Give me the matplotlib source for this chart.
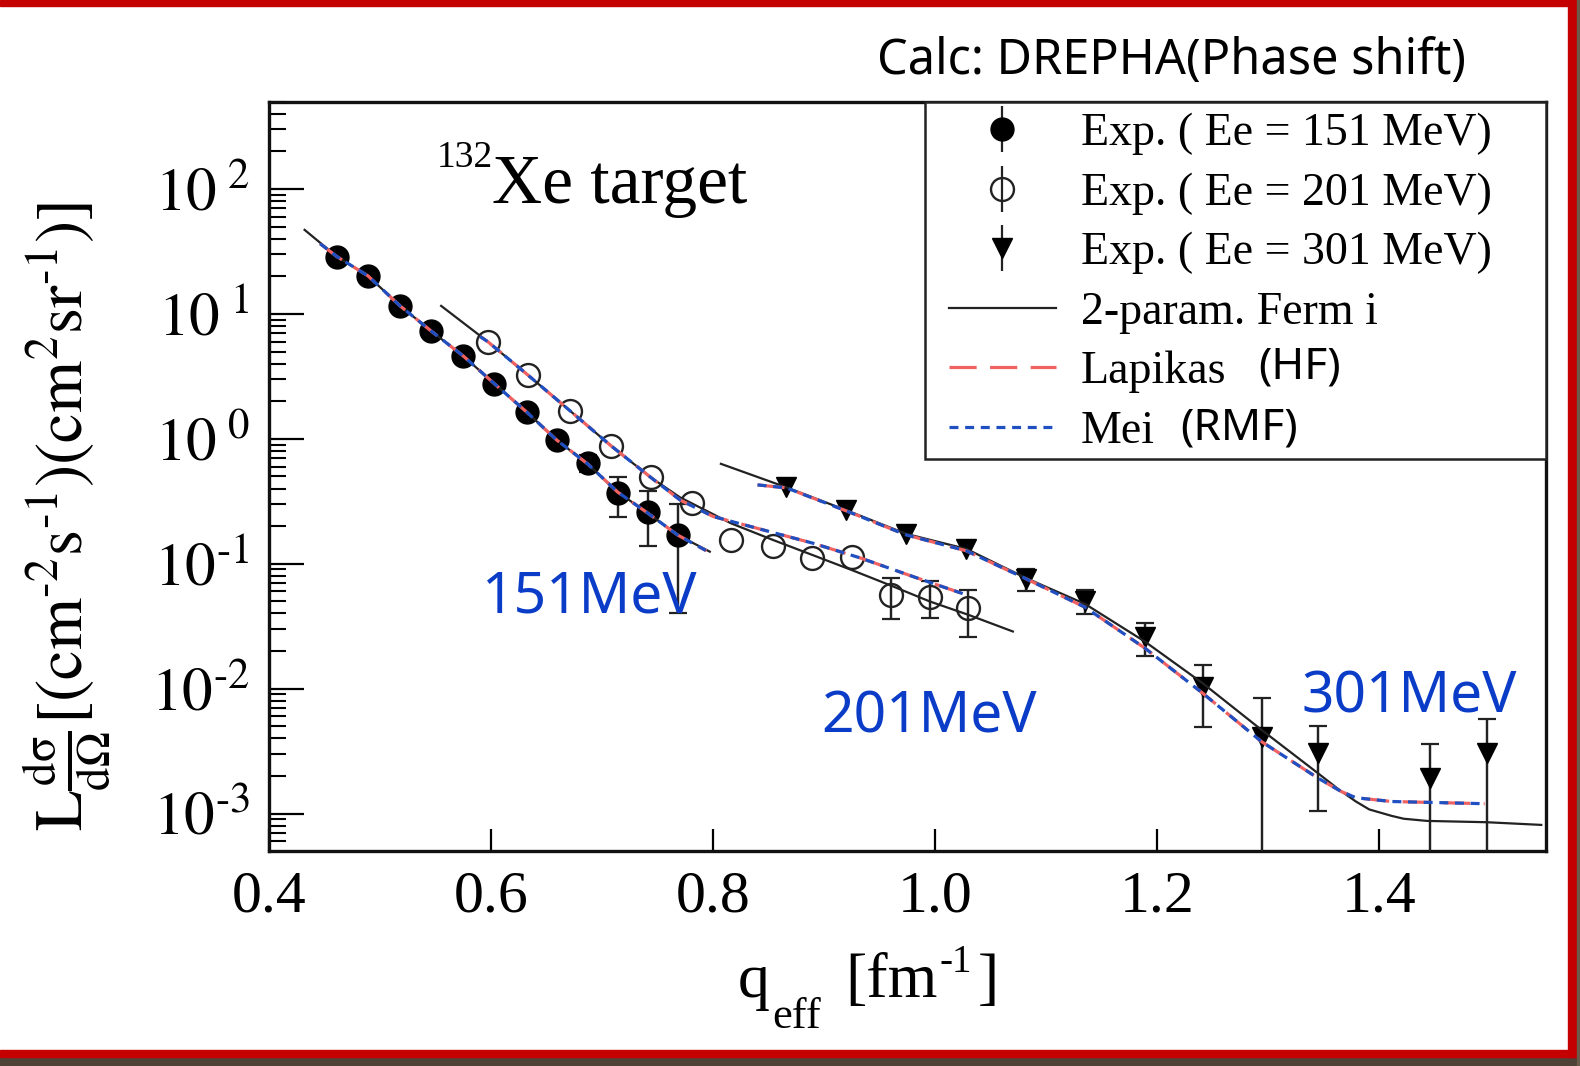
import numpy as np
import matplotlib as mpl
mpl.use('Agg')
import matplotlib.pyplot as plt
from matplotlib.ticker import FixedLocator, LogLocator, NullFormatter
from matplotlib.patches import Rectangle

plt.rcParams['font.family'] = 'Liberation Serif'
plt.rcParams['mathtext.fontset'] = 'stix'

q151 = [0.461, 0.489, 0.518, 0.546, 0.575, 0.603, 0.632, 0.659, 0.687, 0.714, 0.741, 0.768]
s151 = [28.8, 20.2, 11.5, 7.3, 4.62, 2.76, 1.64, 0.98, 0.64, 0.367, 0.259, 0.170]
e151 = [0, 0, 0, 0, 0, 0, 0, 0, 0.10, 0.13, 0.12, 0.13]

q201 = [0.597, 0.633, 0.671, 0.708, 0.744, 0.781, 0.816, 0.854, 0.889, 0.925, 0.960, 0.995, 1.030]
s201 = [6.01, 3.25, 1.675, 0.879, 0.493, 0.309, 0.156, 0.139, 0.111, 0.113, 0.0564, 0.0546, 0.0441]
e201 = [0, 0, 0, 0, 0, 0, 0, 0, 0, 0, 0.020, 0.018, 0.018]

q301 = [0.866, 0.920, 0.974, 1.028, 1.082, 1.135, 1.189, 1.241, 1.294, 1.345, 1.446, 1.497]
s301 = [0.409, 0.268, 0.1735, 0.1316, 0.0757, 0.0505, 0.0261, 0.01024, 0.00413, 0.00304, 0.00192, 0.00304]
e301 = [0, 0, 0, 0, 0.015, 0.011, 0.0077, 0.0053, 0.0043, 0.002, 0.0017, 0.0027]

# --- calculations (2-param Fermi) ---
fermi151_q = [0.432, 0.461, 0.489, 0.518, 0.546, 0.575, 0.603, 0.632, 0.659, 0.687, 0.714, 0.741, 0.768, 0.797]
fermi151_s = [47.1, 28.8, 20.2, 11.6, 7.3, 4.6, 2.76, 1.64, 0.98, 0.63, 0.375, 0.255, 0.170, 0.125]
fermi201_q = [0.555, 0.597, 0.633, 0.671, 0.708, 0.744, 0.770, 0.816, 0.854, 0.889, 0.925, 0.960, 0.995, 1.030, 1.070]
fermi201_s = [11.6, 6.0, 3.25, 1.68, 0.88, 0.49, 0.341, 0.211, 0.155, 0.118, 0.089, 0.067, 0.050, 0.039, 0.0287]
fermi301_q = [0.807, 0.866, 0.920, 0.974, 1.028, 1.082, 1.135, 1.189, 1.241, 1.294, 1.345, 1.364,
              1.379, 1.391, 1.411, 1.422, 1.443, 1.497, 1.546]
fermi301_s = [0.631, 0.409, 0.268, 0.1735, 0.1316, 0.0767, 0.0477, 0.0238, 0.01106, 0.00468, 0.0021, 0.00155,
              0.00125, 0.00108, 0.00096, 0.00091, 0.000874, 0.000853, 0.000812]

# Lapikas (HF) and Mei (RMF) sit on top of each other
hf151_q = [0.446, 0.461, 0.489, 0.518, 0.546, 0.575, 0.603, 0.632, 0.659, 0.687, 0.714, 0.741, 0.768, 0.794]
hf151_s = [36.5, 28.8, 20.2, 11.6, 7.3, 4.6, 2.76, 1.64, 0.98, 0.63, 0.375, 0.255, 0.170, 0.127]
hf201_q = [0.590, 0.597, 0.633, 0.671, 0.708, 0.744, 0.770, 0.800, 0.839, 0.890, 0.933, 0.980, 1.028]
hf201_s = [6.6, 6.0, 3.25, 1.68, 0.88, 0.49, 0.325, 0.239, 0.193, 0.146, 0.111, 0.079, 0.0564]
hf301_q = [0.840, 0.866, 0.920, 0.974, 1.028, 1.082, 1.135, 1.189, 1.241, 1.294, 1.345, 1.366, 1.379,
           1.411, 1.495]
hf301_s = [0.428, 0.405, 0.265, 0.170, 0.127, 0.0757, 0.0449, 0.0211, 0.0092, 0.00377, 0.00192,
           0.0015, 0.00134, 0.00125, 0.0012]
rmf151_q, rmf151_s = hf151_q, hf151_s
rmf201_q, rmf201_s = hf201_q, hf201_s
rmf301_q, rmf301_s = hf301_q, hf301_s

xticks = [0.4, 0.6, 0.8, 1.0, 1.2, 1.4]
xticklabels = ['0.4', '0.6', '0.8', '1.0', '1.2', '1.4']
yticks = [1e-3, 1e-2, 1e-1, 1e0, 1e1, 1e2]
yticklabels = [r'$10^{\text{-3}}$', r'$10^{\text{-2}}$', r'$10^{\text{-1}}$',
               r'$10^{\ 0}$', r'$10^{\ 1}$', r'$10^{\ 2}$']

RED = '#f06262'
BLUE = '#1f4fc0'
LABELBLUE = '#0a3cc8'
W, H = 1580.0, 1066.0

fig = plt.figure(figsize=(15.8, 10.66), dpi=100)
ax = fig.add_axes([0.1703, 0.2020, 0.8080, 0.7026])
ax.set_yscale('log')

# error bars with caps (only where there is an error), then the labelled points
for q, s, e in [(q151, s151, e151), (q201, s201, e201), (q301, s301, e301)]:
    q, s, e = np.array(q), np.array(s), np.array(e)
    m = e > 0
    ax.errorbar(q[m], s[m], yerr=e[m], fmt='none', ecolor='#222222', elinewidth=1.6,
                capsize=6.5, capthick=1.6, zorder=2)

h151 = ax.errorbar(q151, s151, yerr=e151, fmt='o', ms=16.5, mfc='black', mec='black',
                   ecolor='#222222', elinewidth=1.6, capsize=0, zorder=3)
h201 = ax.errorbar(q201, s201, yerr=e201, fmt='o', ms=16.5, mfc='none', mec='#222222', mew=1.7,
                   ecolor='#222222', elinewidth=1.6, capsize=0, zorder=3)
h301 = ax.errorbar(q301, s301, yerr=e301, fmt='v', ms=15, mfc='black', mec='black',
                   ecolor='#222222', elinewidth=1.6, capsize=0, zorder=3)

for q, s in [(fermi151_q, fermi151_s), (fermi201_q, fermi201_s), (fermi301_q, fermi301_s)]:
    lf, = ax.plot(q, s, color='#222222', lw=1.6, zorder=4)
for q, s in [(hf151_q, hf151_s), (hf201_q, hf201_s), (hf301_q, hf301_s)]:
    lh, = ax.plot(q, s, color=RED, lw=2.3, dashes=(8.5, 4.2), zorder=5)
for q, s in [(rmf151_q, rmf151_s), (rmf201_q, rmf201_s), (rmf301_q, rmf301_s)]:
    lm, = ax.plot(q, s, color=BLUE, lw=2.3, dashes=(2.8, 2.1), zorder=6)

ax.set_xlim(0.4, 1.55)
ax.set_ylim(5.05e-4, 5.0e2)
ax.set_xticks(xticks)
ax.set_xticklabels(xticklabels)
ax.yaxis.set_major_locator(FixedLocator(yticks))
ax.set_yticklabels(yticklabels)
ax.yaxis.set_minor_locator(LogLocator(base=10, subs=np.arange(2, 10)))
ax.yaxis.set_minor_formatter(NullFormatter())
ax.xaxis.set_minor_locator(FixedLocator([]))

ax.tick_params(axis='both', which='both', direction='in', top=False, right=False)
ax.tick_params(axis='x', which='major', length=16, width=1.6, pad=14, labelsize=43)
ax.tick_params(axis='y', which='major', length=25, width=1.6, pad=14, labelsize=44)
ax.tick_params(axis='y', which='minor', length=12, width=1.5)
for sp in ax.spines.values():
    sp.set_linewidth(2.4)
    sp.set_color('#111111')

# x label built from pieces so the subscript sits low like the original
fig.text(738 / W, 1 - 997 / H, 'q', fontsize=46, va='baseline', ha='left')
fig.text(772 / W, 1 - 1028 / H, 'eff', fontsize=32, va='baseline', ha='left')
fig.text(845 / W, 1 - 997 / H, '[fm', fontsize=46, va='baseline', ha='left')
fig.text(940 / W, 1 - 972 / H, '-1', fontsize=28, va='baseline', ha='left')
fig.text(978 / W, 1 - 997 / H, ']', fontsize=46, va='baseline', ha='left')

ax.set_ylabel(r'$\mathrm{L}\frac{\mathrm{d\sigma}}{\mathrm{d\Omega}}[(\mathrm{cm}^{\text{-2}}\mathrm{s}^{\text{-1}})'
              r'(\mathrm{cm}^{2}\mathrm{sr}^{\text{-1}})]$', fontsize=48, va='center')
ax.yaxis.set_label_coords(-0.158, 0.447)

# legend box and entries
ax.add_patch(Rectangle((0.5134, 0.5226), 0.4866, 0.4774, transform=ax.transAxes,
                       facecolor='white', edgecolor='#222222', lw=1.8, zorder=7, clip_on=False))
leg = ax.legend([h151, h201, h301, lf, lh, lm],
                ['Exp. ( Ee = 151 MeV)', 'Exp. ( Ee = 201 MeV)', 'Exp. ( Ee = 301 MeV)',
                 '2-param. Ferm i', 'Lapikas', 'Mei'],
                loc='upper left', bbox_to_anchor=(0.5322, 0.985), borderaxespad=0, borderpad=0,
                frameon=False, fontsize=33, handlelength=2.34, handletextpad=0.55,
                labelspacing=0.37, numpoints=1)
leg.set_zorder(8)
ax.text(0.7745, 0.645, '(HF)', transform=ax.transAxes, fontsize=32, family='Noto Sans',
        va='center', ha='left', zorder=9)
ax.text(0.7136, 0.564, '(RMF)', transform=ax.transAxes, fontsize=32, family='Noto Sans',
        va='center', ha='left', zorder=9)

# energy labels
ax.text(0.1666, 0.3367, '151MeV', transform=ax.transAxes, fontsize=41, family='Noto Sans',
        color=LABELBLUE, va='center', ha='left', zorder=9)
ax.text(0.4324, 0.1772, '201MeV', transform=ax.transAxes, fontsize=41, family='Noto Sans',
        color=LABELBLUE, va='center', ha='left', zorder=9)
ax.text(0.809, 0.2042, '301MeV', transform=ax.transAxes, fontsize=41, family='Noto Sans',
        color=LABELBLUE, va='center', ha='left', zorder=9)

fig.text(0.3112, 0.8093, 'Xe target', fontsize=50, va='baseline', ha='left')
fig.text(0.2764, 0.8436, '132', fontsize=27, va='baseline', ha='left')
fig.text(0.555, 0.943, 'Calc: DREPHA(Phase shift)', fontsize=35, family='Noto Sans',
         va='center', ha='left')

# screenshot frame
fig.patches.append(Rectangle((0, 1 - 6 / H), 1, 6 / H, transform=fig.transFigure, color='#c40000'))
fig.patches.append(Rectangle((0, 0), 1, 9 / H, transform=fig.transFigure, color='#4e4236'))
fig.patches.append(Rectangle((0, 9 / H), 1, 7 / H, transform=fig.transFigure, color='#c40000'))
fig.patches.append(Rectangle((1568 / W, 9 / H), 9 / W, 1, transform=fig.transFigure, color='#c40000'))
fig.patches.append(Rectangle((1577 / W, 0), 3 / W, 1, transform=fig.transFigure, color='#6a5a4a'))

fig.savefig('out.png', dpi=100)
